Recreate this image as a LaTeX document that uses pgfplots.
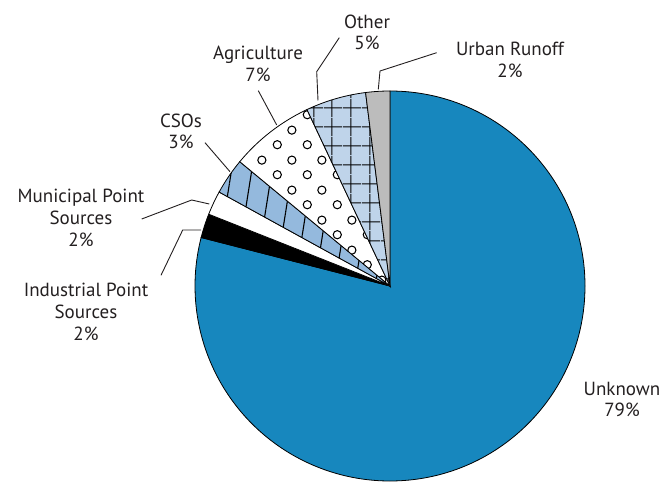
\documentclass[border=0pt]{standalone}
\usepackage{fontspec}
\setmainfont{PT Sans}
\usepackage{pgfplots}
\pgfplotsset{compat=1.18}
\usetikzlibrary{patterns.meta}
\definecolor{unk}{HTML}{1787BE}
\definecolor{csos}{HTML}{94B9DD}
\definecolor{oth}{HTML}{BFD4EA}
\definecolor{urb}{HTML}{BCBCBC}
\definecolor{txt}{RGB}{35,31,32}
\tikzdeclarepattern{
  name=rings,
  type=uncolored,
  bounding box={(0pt,0pt) and (30pt,30pt)},
  tile size={(30pt,30pt)},
  code={\draw[line width=1.1pt] (7.5pt,7.5pt) circle (4.2pt);
        \draw[line width=1.1pt] (22.5pt,22.5pt) circle (4.2pt);}
}
% slice: start percent, end percent, style (values are cumulative shares)
\newcommand\slice[3]{%
  \pgfmathsetmacro\sa{90-3.6*#1}%
  \pgfmathsetmacro\sb{90-3.6*#2}%
  \edef\tmp{\noexpand\path[\unexpanded{#3}] (axis cs:390,195) -- ++(\sa:195pt) arc[start angle=\sa,end angle=\sb,radius=195pt] -- cycle;}%
  \tmp}
\begin{document}
\begin{tikzpicture}[
  lab/.style={align=center, text=txt, font=\fontsize{19}{21.7}\selectfont, inner sep=0pt},
  ldr/.style={draw=txt, line width=0.9pt},
]
\begin{axis}[
  hide axis, scale only axis, width=668pt, height=481pt,
  xmin=0, xmax=668, ymin=0, ymax=481, clip=false,
]
\path (axis cs:0,0) rectangle (axis cs:668,481);
% Unknown 79, Industrial 2, Municipal 2, CSOs 3, Agriculture 7, Other 5, Urban Runoff 2
\slice{0}{79}{fill=unk, draw=black, line width=0.8pt}
\slice{79}{81}{fill=black, draw=black, line width=0.8pt}
\slice{81}{83}{fill=white, draw=black, line width=0.8pt}
\slice{83}{86}{preaction={fill=csos}, pattern={Lines[angle=81,distance=20pt,line width=1.1pt]}, pattern color=black, draw=black, line width=0.8pt}
\slice{86}{93}{preaction={fill=white}, pattern=rings, pattern color=black, draw=black, line width=0.8pt}
\slice{93}{98}{preaction={fill=oth}, preaction={pattern={Lines[angle=0,distance=18.5pt,line width=1pt]}, pattern color=black}, pattern={Lines[angle=90,distance=18.5pt,line width=1pt]}, pattern color=black, draw=black, line width=0.8pt}
\slice{98}{100}{fill=urb, draw=black, line width=0.8pt}
% labels
\node[lab] at (axis cs:367,448.5) {Other\\5\%};
\node[lab] at (axis cs:258,417) {Agriculture\\7\%};
\node[lab] at (axis cs:510,421) {Urban Runoff\\2\%};
\node[lab] at (axis cs:181,349.5) {CSOs\\3\%};
\node[lab] at (axis cs:81,263) {Municipal Point\\Sources\\2\%};
\node[lab] at (axis cs:86,169) {Industrial Point\\Sources\\2\%};
\node[lab] at (axis cs:622,81.5) {Unknown\\79\%};
% leader lines
\draw[ldr] (axis cs:318,380.5) -- (axis cs:316.7,409.3) -- (axis cs:339.3,443.3);
\draw[ldr] (axis cs:378.3,391.7) -- (axis cs:380,410) -- (axis cs:436.7,428.3);
\draw[ldr] (axis cs:276.7,356) -- (axis cs:258.3,390.3);
\draw[ldr] (axis cs:230,309.3) -- (axis cs:205,338.3);
\draw[ldr] (axis cs:209.3,277) -- (axis cs:191.7,281) -- (axis cs:141.7,262);
\draw[ldr] (axis cs:201,251) -- (axis cs:182.7,251) -- (axis cs:161,205.7);
\end{axis}
\end{tikzpicture}
\end{document}
